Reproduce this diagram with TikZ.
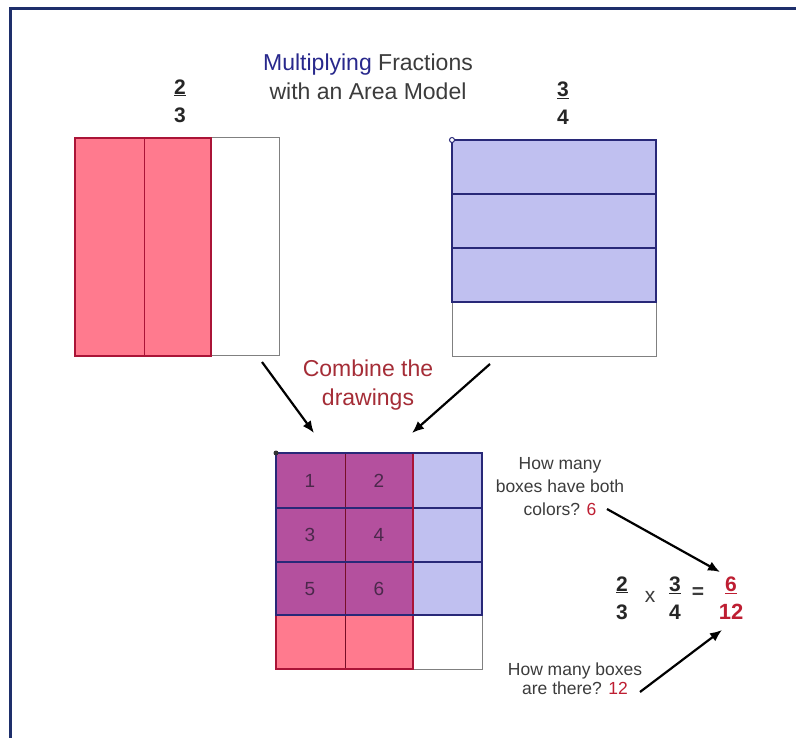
\documentclass[tikz,border=0pt]{standalone}
\usepackage{fontspec}
\setmainfont{Liberation Sans}
\usetikzlibrary{arrows.meta}
\definecolor{framenavy}{RGB}{30,47,107}
\definecolor{redfill}{RGB}{255,122,142}
\definecolor{redline}{RGB}{170,20,55}
\definecolor{bluefill}{RGB}{192,192,240}
\definecolor{blueline}{RGB}{40,40,120}
\definecolor{mixfill}{RGB}{180,80,158}
\definecolor{titleblue}{RGB}{40,40,140}
\definecolor{textgray}{RGB}{60,60,60}
\definecolor{combred}{RGB}{165,45,55}
\definecolor{numred}{RGB}{190,30,50}
\definecolor{cellgray}{RGB}{75,40,75}
\tikzset{
	bigtxt/.style={font=\fontsize{23}{29}\selectfont, align=center, text=textgray},
	smalltxt/.style={font=\fontsize{17.5}{23}\selectfont, align=center, text=textgray},
	fracnum/.style={font=\fontsize{21}{28}\selectfont\bfseries, align=center, inner sep=0pt, text=black!85},
	cellnum/.style={font=\fontsize{19}{20}\selectfont, text=cellgray},
	arr/.style={line width=2.2, -{Latex[length=12pt,width=10pt]}},
}

\begin{document}
\begin{tikzpicture}[x=1pt,y=-1pt]
		%%%%% START %%%%%
		\useasboundingbox (0,0) rectangle (796,738);
		\fill[white] (0,0) rectangle (796,738);
		\draw[framenavy, line width=3] (10,738) -- (10,8.5) -- (796,8.5);
		
		\node[bigtxt] (title) at (368,77) {\textcolor{titleblue}{Multiplying} Fractions\\with an Area Model};
		\node[fracnum] (twothirds) at (180,101) {\underline{2}\\3};
		\node[fracnum] (threequarters) at (563,103) {\underline{3}\\4};
		
		% two thirds
		\fill[redfill] (75,138) rectangle (211,356);
		\draw[gray, line width=1] (211,138) rectangle (279,356);
		\draw[redline, line width=1] (144,138) -- (144,356);
		\draw[redline, line width=2] (75,138) rectangle (211,356);
		
		% three quarters
		\fill[bluefill] (452,140) rectangle (656,302);
		\draw[gray, line width=1] (452,302) rectangle (656,357);
		\foreach \y in {194,248}
			\draw[blueline, line width=1.5] (452,\y) -- (656,\y);
		\draw[blueline, line width=2] (452,140) rectangle (656,302);
		\draw[blueline, fill=white, line width=1] (452,140) circle (2.5);
		
		\node[bigtxt, text=combred] (combine) at (368,385) {Combine the\\drawings};
		\coordinate (fromleft) at (262,362);
		\coordinate (fromright) at (490,364);
		\coordinate (toleft) at (314,433);
		\coordinate (toright) at (412,433);
		\draw[arr] (fromleft) -- (toleft);
		\draw[arr] (fromright) -- (toright);
		
		% combined
		\fill[redfill] (276,453) rectangle (413,669);
		\fill[bluefill] (413,453) rectangle (482,615);
		\fill[mixfill] (276,453) rectangle (413,615);
		\draw[gray, line width=1] (413,615) rectangle (482,669);
		\draw[redline!70!black, line width=1] (345,453) -- (345,669);
		\foreach \y in {508,562}
			\draw[blueline, line width=1.5] (276,\y) -- (482,\y);
		\draw[redline, line width=2] (276,453) rectangle (413,669);
		\draw[blueline, line width=2] (276,453) rectangle (482,615);
		\fill[black!80] (276,453) circle (2.5);
		\foreach \n/\x/\y in {1/310/481, 2/379/481, 3/310/535, 4/379/535, 5/310/589, 6/379/589}
			\node[cellnum] (cell\n) at (\x,\y) {\n};
		
		% equation
		\node[smalltxt] (both) at (560,487) {How many\\boxes have both\\colors? \textcolor{numred}{6}};
		\node[smalltxt, font=\fontsize{17.5}{19}\selectfont] (total) at (575,679) {How many boxes\\are there? \textcolor{numred}{12}};
		\node[fracnum] (eqa) at (622,598) {\underline{2}\\3};
		\node[font=\fontsize{21}{22}\selectfont, text=textgray] (times) at (650,597) {x};
		\node[fracnum] (eqb) at (675,598) {\underline{3}\\4};
		\node[font=\fontsize{21}{22}\selectfont\bfseries, text=textgray] (equals) at (698,593) {=};
		\node[fracnum, text=numred] (result) at (731,598) {\underline{6}\\{\fontsize{22}{28}\selectfont 12}};
		\coordinate (bothend) at (607,509);
		\coordinate (totalend) at (640,692);
		\draw[arr] (bothend) -- (720,572);
		\draw[arr] (totalend) -- (722,630);
		%%%%% END %%%%%
\end{tikzpicture}
\end{document}
